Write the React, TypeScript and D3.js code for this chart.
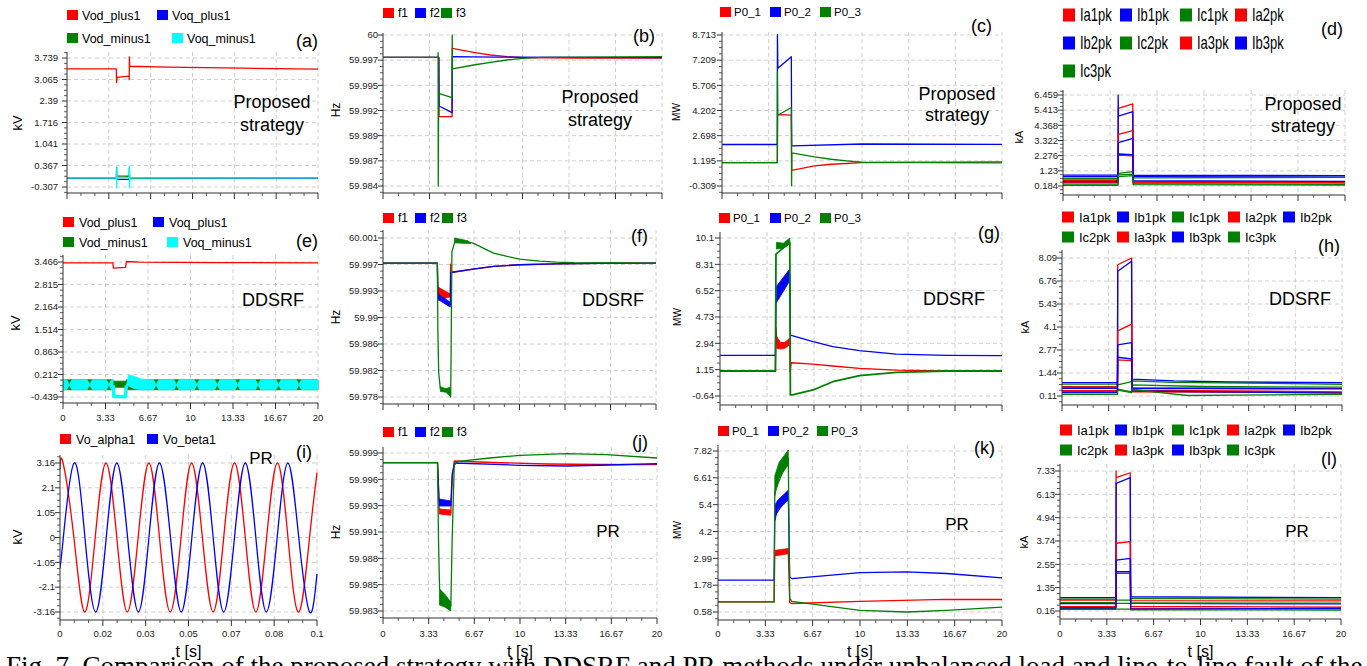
import React from 'react';
import * as d3 from 'd3';

type P = [number, number];
type B = [number, number, number];

const RED = '#ff0000';
const BLUE = '#0000ff';
const GREEN = '#008000';
const CYAN = '#00ffff';
const SANS = 'Liberation Sans, Arial, Helvetica, sans-serif';
const SERIF = 'Liberation Serif, Times New Roman, serif';

// ---------- common tick labels ----------
const tLabels = ['0', '3.33', '6.67', '10', '13.33', '16.67', '20'];
const iLabels = ['0', '0.02', '0.03', '0.05', '0.07', '0.08', '0.1'];

// ---------- (a) Proposed, sequence voltages (kV) ----------
const aTicks = ['3.739', '3.065', '2.39', '1.716', '1.041', '0.367', '-0.307'];
const aVodPlus: P[] = [[0, 3.40], [3.93, 3.40], [3.95, 2.97], [3.99, 3.13], [4.95, 3.17], [4.96, 3.06], [4.97, 3.77], [5.0, 3.48], [8, 3.45], [14, 3.42], [20, 3.39]];
const aVoqPlus: P[] = [[0, -0.03], [3.95, -0.03], [3.97, -0.07], [4.95, -0.07], [4.98, -0.03], [20, -0.03]];
const aVodMinus: P[] = [[0, -0.02], [3.93, -0.02], [3.95, 0.30], [3.97, 0.04], [4.95, 0.03], [4.97, 0.30], [4.99, -0.04], [6, -0.03], [9, -0.02], [20, -0.01]];
const aVoqMinus: P[] = [[0, -0.02], [3.95, -0.02], [3.96, -0.33], [3.97, 0.32], [3.99, -0.01], [4.95, -0.01], [4.97, 0.35], [4.99, -0.33], [5.01, -0.02], [20, -0.02]];

// ---------- (b) Proposed, frequency (Hz) ----------
const bTicks = ['60', '59.997', '59.995', '59.992', '59.989', '59.987', '59.984'];
const bF1: P[] = [[0, 59.99763], [4.0, 59.99763], [4.02, 59.99135], [4.95, 59.99135], [4.97, 59.99859], [6.5, 59.99816], [7.7, 59.99788], [8.9, 59.9977], [10, 59.9976], [14, 59.99755], [20, 59.99755]];
const bF2: P[] = [[0, 59.99763], [4.0, 59.99763], [4.02, 59.99248], [4.95, 59.99177], [4.97, 59.9977], [8, 59.99765], [20, 59.9976]];
const bF3: P[] = [[0, 59.99763], [3.94, 59.99763], [3.95, 59.99813], [3.96, 59.984], [3.99, 59.99382], [4.95, 59.99336], [4.96, 60.0], [4.98, 59.9964], [6.5, 59.99682], [7.7, 59.9971], [8.9, 59.99735], [10, 59.99753], [11.5, 59.99763], [20, 59.9977]];

// ---------- (c) Proposed, power (MW) ----------
const cTicks = ['8.713', '7.209', '5.706', '4.202', '2.698', '1.195', '-0.309'];
const cP1: P[] = [[0, 1.09], [3.95, 1.09], [3.98, 3.96], [4.95, 3.92], [4.98, 0.63], [6.6, 0.89], [7.8, 0.99], [10, 1.09], [20, 1.13]];
const cP2: P[] = [[0, 2.17], [3.95, 2.17], [3.96, 8.75], [3.99, 6.72], [4.95, 7.42], [4.98, 2.09], [10, 2.2], [20, 2.18]];
const cP3: P[] = [[0, 1.09], [3.95, 1.09], [3.96, 6.52], [3.99, 3.92], [4.95, 4.38], [4.97, -0.3], [4.99, 1.67], [6.6, 1.43], [7.8, 1.29], [8.9, 1.19], [10, 1.11], [20, 1.07]];

// ---------- (d) Proposed, peak currents (kA) ----------
const dTicks = ['6.459', '5.413', '4.368', '3.322', '2.276', '1.23', '0.184'];
const dIa1: P[] = [[0, 0.60], [3.9, 0.60], [3.93, 5.54], [4.95, 5.84], [4.98, 0.50], [20, 0.45]];
const dIb1: P[] = [[0, 0.94], [3.9, 0.94], [3.91, 6.46], [3.93, 5.01], [4.95, 5.31], [4.98, 0.92], [20, 0.90]];
const dIc1: P[] = [[0, 0.71], [3.9, 0.71], [3.93, 1.06], [4.95, 1.17], [4.98, 0.75], [20, 0.78]];
const dIa2: P[] = [[0, 0.41], [3.9, 0.41], [3.93, 3.75], [4.95, 4.0], [4.98, 0.45], [20, 0.40]];
const dIb2: P[] = [[0, 0.83], [3.9, 0.83], [3.93, 3.17], [4.95, 3.47], [4.98, 0.85], [20, 0.88]];
const dIc2: P[] = [[0, 0.32], [3.9, 0.32], [3.93, 0.83], [4.95, 0.90], [4.98, 0.35], [20, 0.30]];
const dIa3: P[] = [[0, 0.55], [3.9, 0.55], [3.93, 2.32], [4.95, 2.27], [4.98, 0.40], [20, 0.42]];
const dIb3: P[] = [[0, 0.48], [3.9, 0.48], [3.93, 2.39], [4.95, 2.35], [4.98, 0.55], [20, 0.50]];
const dIc3: P[] = [[0, 0.23], [3.9, 0.23], [3.93, 0.95], [4.95, 1.0], [4.98, 0.28], [20, 0.25]];

// ---------- (e) DDSRF, sequence voltages (kV) ----------
const eTicks = ['3.466', '2.815', '2.164', '1.514', '0.863', '0.212', '-0.439'];
const eVodPlus: P[] = [[0, 3.44], [3.92, 3.44], [3.95, 3.29], [4.9, 3.31], [4.97, 3.48], [6, 3.46], [12, 3.45], [20, 3.44]];
const eVoqPlus: P[] = [[0, -0.086], [20, -0.086]];
const eVodMinusBand: B[] = [[0, -0.23, 0.06], [3.93, -0.23, 0.06], [3.95, -0.16, 0.02], [4.95, -0.16, 0.02], [4.98, -0.23, 0.06], [20, -0.23, 0.06]];
const eVoqMinusBandPre: B[] = [[0, -0.23, 0.06], [0.3, -0.23, 0.06], [0.5, -0.086, -0.086], [0.7, -0.23, 0.06], [1.9, -0.23, 0.06], [2.1, -0.086, -0.086], [2.3, -0.23, 0.06], [3.4, -0.23, 0.06], [3.6, -0.086, -0.086], [3.8, -0.23, 0.06], [3.93, -0.23, 0.06]];
const eVoqMinusBandPost: B[] = [[4.98, -0.12, -0.1], [5.15, -0.12, 0.2], [5.6, -0.2, 0.16], [6.1, -0.23, 0.08], [7.1, -0.23, 0.06], [7.3, -0.086, -0.086], [7.5, -0.23, 0.06], [8.7, -0.23, 0.06], [8.9, -0.086, -0.086], [9.1, -0.23, 0.06], [10.3, -0.23, 0.06], [10.5, -0.086, -0.086], [10.7, -0.23, 0.06], [11.9, -0.23, 0.06], [12.1, -0.086, -0.086], [12.3, -0.23, 0.06], [13.5, -0.23, 0.06], [13.7, -0.086, -0.086], [13.9, -0.23, 0.06], [15.1, -0.23, 0.06], [15.3, -0.086, -0.086], [15.5, -0.23, 0.06], [16.7, -0.23, 0.06], [16.9, -0.086, -0.086], [17.1, -0.23, 0.06], [18.3, -0.23, 0.06], [18.5, -0.086, -0.086], [18.7, -0.23, 0.06], [20, -0.23, 0.06]];
const eVoqMinusFault: P[] = [[3.94, -0.1], [3.99, -0.42], [4.9, -0.43], [4.97, -0.1]];

// ---------- (f) DDSRF, frequency (Hz) ----------
const fTicks = ['60.001', '59.997', '59.993', '59.99', '59.986', '59.982', '59.978'];
const fF1: P[] = [[0, 59.99737], [3.98, 59.99737], [4.03, 59.9928], [4.93, 59.9927], [4.95, 59.9972], [4.98, 59.99601], [6.6, 59.9965], [8.1, 59.99689], [10, 59.99713], [12.7, 59.99727], [16, 59.99735], [20, 59.99737]];
const fF1Band: B[] = [[4.04, 59.992, 59.9939], [4.93, 59.9925, 59.9929]];
const fF2: P[] = [[0, 59.99737], [3.98, 59.99737], [4.03, 59.9925], [4.93, 59.9913], [4.96, 59.99601], [6.6, 59.9965], [8.1, 59.99689], [10, 59.99713], [12.7, 59.99727], [16, 59.99735], [20, 59.99737]];
const fF2Band: B[] = [[4.04, 59.9921, 59.9929], [4.93, 59.991, 59.9917]];
const fF3: P[] = [[0, 59.99737], [3.98, 59.99737], [4.02, 59.9875], [4.08, 59.9815], [4.2, 59.9792], [4.5, 59.979], [4.93, 59.9786], [4.96, 59.978], [5.05, 59.999], [5.3, 60.00076], [6.6, 60.00027], [8.1, 59.99882], [9.1, 59.99833], [10, 59.99795], [11.5, 59.99766], [12.7, 59.99751], [14, 59.99742], [20, 59.99737]];
const fF3Band: B[] = [[4.2, 59.9788, 59.9795], [4.6, 59.9787, 59.9792], [4.93, 59.9781, 59.9794]];
const fF3Band2: B[] = [[5.25, 60.0003, 60.001], [6.2, 60.0002, 60.0006], [6.4, 60.0002, 60.0003]];

// ---------- (g) DDSRF, power (MW) ----------
const gTicks = ['10.1', '8.31', '6.52', '4.73', '2.94', '1.15', '-0.64'];
const gP1: P[] = [[0, 1.06], [3.93, 1.06], [3.97, 4.0], [4.05, 2.9], [4.95, 3.05], [4.97, 1.0], [5.05, 1.62], [6.6, 1.53], [8.0, 1.4], [9.9, 1.24], [12.5, 1.12], [16.1, 1.06], [20, 1.06]];
const gP1Band: B[] = [[4.02, 2.6, 3.4], [4.3, 2.55, 3.0], [4.6, 2.6, 3.0], [4.95, 2.85, 3.3]];
const gP2: P[] = [[0, 2.12], [3.93, 2.12], [3.97, 5.8], [4.95, 7.6], [4.99, 3.5], [6.6, 3.05], [8.0, 2.71], [9.9, 2.44], [12.5, 2.21], [16.1, 2.12], [20, 2.1]];
const gP2Band: B[] = [[4.0, 5.7, 6.8], [4.95, 7.2, 8.0]];
const gP3: P[] = [[0, 1.06], [3.93, 1.06], [3.97, 9.0], [4.95, 9.8], [4.99, -0.57], [5.2, -0.55], [6.6, -0.23], [8.0, 0.33], [9.9, 0.74], [12.5, 0.97], [16.1, 1.06], [20, 1.06]];
const gP3Band: B[] = [[4.0, 9.35, 9.8], [4.5, 9.4, 9.75], [4.95, 9.7, 10.1]];

// ---------- (h) DDSRF, peak currents (kA) ----------
const hTicks = ['8.09', '6.76', '5.43', '4.1', '2.77', '1.44', '0.11'];
const hIa1: P[] = [[0, 0.42], [3.96, 0.42], [3.98, 7.7], [4.97, 8.09], [5.0, 0.45], [20, 0.35]];
const hIb1: P[] = [[0, 0.88], [3.96, 0.88], [3.98, 7.32], [4.97, 7.9], [5.0, 1.09], [8, 0.98], [12, 0.92], [20, 0.88]];
const hIc1: P[] = [[0, 0.8], [3.96, 0.8], [3.98, 0.75], [4.97, 0.94], [5.0, 0.98], [8, 0.9], [20, 0.79]];
const hIa2: P[] = [[0, 0.65], [3.96, 0.65], [3.98, 3.88], [4.97, 4.27], [5.0, 0.6], [20, 0.55]];
const hIb2: P[] = [[0, 0.55], [3.96, 0.55], [3.98, 3.07], [4.97, 3.2], [5.0, 0.55], [20, 0.52]];
const hIc2: P[] = [[0, 0.61], [3.96, 0.61], [3.98, 0.5], [4.97, 0.35], [5.0, 0.75], [10, 0.66], [20, 0.62]];
const hIa3: P[] = [[0, 0.36], [3.96, 0.36], [3.98, 2.2], [4.97, 2.16], [5.0, 0.35], [20, 0.3]];
const hIb3: P[] = [[0, 0.3], [3.96, 0.3], [3.98, 2.35], [4.97, 2.25], [5.0, 0.4], [20, 0.28]];
const hIc3: P[] = [[0, 0.2], [3.96, 0.2], [3.98, 0.45], [4.97, 0.3], [5.0, 0.5], [7, 0.3], [9, 0.14], [12, 0.16], [20, 0.2]];

// ---------- (i) PR, alpha-beta voltages (kV) ----------
const iTicks = ['3.16', '2.1', '1.05', '0', '-1.05', '-2.1', '-3.16'];
const iAlpha: P[] = [[0, 2.9], [0.0012, 3.16], [0.0054, 0], [0.0096, -3.16], [0.0137, 0], [0.0179, 3.16], [0.0221, 0], [0.0262, -3.16], [0.0304, 0], [0.0346, 3.16], [0.0387, 0], [0.0429, -3.16], [0.0471, 0], [0.0512, 3.16], [0.0554, 0], [0.0596, -3.16], [0.0637, 0], [0.0679, 3.16], [0.0721, 0], [0.0762, -3.16], [0.0804, 0], [0.0846, 3.16], [0.0887, 0], [0.0929, -3.16], [0.0971, 0], [0.1, 2.75]];
const iBeta: P[] = [[0, -1.3], [0.0013, 0], [0.0055, 3.16], [0.0097, 0], [0.0139, -3.16], [0.018, 0], [0.0221, 3.16], [0.0263, 0], [0.0305, -3.16], [0.0346, 0], [0.0387, 3.16], [0.043, 0], [0.0472, -3.16], [0.0513, 0], [0.0555, 3.16], [0.0596, 0], [0.0637, -3.16], [0.0679, 0], [0.0721, 3.16], [0.0762, 0], [0.0803, -3.16], [0.0845, 0], [0.0887, 3.16], [0.0929, 0], [0.0971, -3.16], [0.1, -1.55]];

// ---------- (j) PR, frequency (Hz) ----------
const jTicks = ['59.999', '59.996', '59.993', '59.991', '59.988', '59.985', '59.983'];
const jF1: P[] = [[0, 59.99763], [3.98, 59.99763], [4.1, 59.993], [4.95, 59.9926], [5.05, 59.996], [5.2, 59.9978], [8, 59.99765], [12, 59.9975], [16, 59.99745], [20, 59.99743]];
const jF1Band: B[] = [[4.1, 59.9925, 59.993], [4.95, 59.99237, 59.9929]];
const jF2: P[] = [[0, 59.99763], [3.98, 59.99763], [4.1, 59.9937], [4.95, 59.9934], [5.05, 59.9965], [5.25, 59.9976], [10, 59.99737], [13.4, 59.9973], [16.5, 59.9974], [20, 59.99753]];
const jF2Band: B[] = [[4.1, 59.9933, 59.994], [4.95, 59.9933, 59.9938]];
const jF3: P[] = [[0, 59.99763], [3.98, 59.99763], [4.05, 59.99], [4.13, 59.985], [4.5, 59.9842], [4.95, 59.9833], [5.05, 59.99], [5.2, 59.9974], [5.5, 59.99777], [7.8, 59.9981], [10, 59.99837], [13.4, 59.99853], [16.3, 59.99843], [20, 59.9981]];
const jF3Band: B[] = [[4.12, 59.9834, 59.985], [4.5, 59.9832, 59.9845], [4.95, 59.9828, 59.9837]];

// ---------- (k) PR, power (MW) ----------
const kTicks = ['7.82', '6.61', '5.4', '4.2', '2.99', '1.78', '0.58'];
const kP1: P[] = [[0, 1.03], [3.95, 1.03], [4.0, 3.2], [4.95, 3.3], [5.05, 1.0], [5.2, 0.96], [10, 1.06], [16, 1.15], [20, 1.14]];
const kP1Band: B[] = [[4.02, 3.1, 3.35], [4.95, 3.2, 3.43]];
const kP2: P[] = [[0, 2.01], [3.95, 2.01], [4.0, 4.9], [4.95, 5.8], [5.05, 2.15], [5.2, 2.08], [10, 2.35], [13.3, 2.38], [16.1, 2.31], [20, 2.11]];
const kP2Band: B[] = [[4.02, 4.7, 5.4], [4.2, 5.2, 5.6], [4.95, 5.6, 6.05]];
const kP3: P[] = [[0, 1.03], [3.95, 1.03], [4.0, 6.0], [4.95, 7.5], [5.05, 1.2], [5.2, 1.06], [10, 0.65], [13.3, 0.58], [16.1, 0.65], [20, 0.8]];
const kP3Band: B[] = [[4.0, 5.8, 6.7], [4.3, 6.6, 7.3], [4.95, 7.2, 7.86]];

// ---------- (l) PR, peak currents (kA) ----------
const lTicks = ['7.33', '6.13', '4.94', '3.74', '2.55', '1.35', '0.16'];
const lIa1: P[] = [[0, 0.72], [3.98, 0.72], [3.99, 7.33], [4.0, 6.99], [5.0, 7.24], [5.03, 0.69], [20, 0.68]];
const lIb1: P[] = [[0, 0.84], [3.98, 0.84], [4.0, 6.7], [5.0, 6.99], [5.03, 0.89], [20, 0.84]];
const lIc1: P[] = [[0, 0.77], [3.98, 0.77], [4.0, 0.72], [5.0, 0.72], [5.03, 0.81], [20, 0.77]];
const lIa2: P[] = [[0, 0.38], [3.98, 0.38], [4.0, 3.63], [5.0, 3.71], [5.03, 0.4], [20, 0.36]];
const lIb2: P[] = [[0, 0.54], [3.98, 0.54], [4.0, 2.77], [5.0, 2.86], [5.03, 0.55], [20, 0.52]];
const lIc2: P[] = [[0, 0.59], [3.98, 0.59], [4.0, 0.55], [5.0, 0.55], [5.03, 0.58], [20, 0.56]];
const lIa3: P[] = [[0, 0.33], [3.98, 0.33], [4.0, 2.09], [5.0, 2.09], [5.03, 0.3], [20, 0.28]];
const lIb3: P[] = [[0, 0.3], [3.98, 0.3], [4.0, 2.17], [5.0, 2.17], [5.03, 0.25], [20, 0.3]];
const lIc3: P[] = [[0, 0.25], [3.98, 0.25], [4.0, 0.26], [5.0, 0.26], [5.03, 0.22], [20, 0.21]];

const seqNames = ['Vod_plus1', 'Voq_plus1', 'Vod_minus1', 'Voq_minus1'];
const fNames = ['f1', 'f2', 'f3'];
const pNames = ['P0_1', 'P0_2', 'P0_3'];
const iNames = ['Ia1pk', 'Ib1pk', 'Ic1pk', 'Ia2pk', 'Ib2pk', 'Ic2pk', 'Ia3pk', 'Ib3pk', 'Ic3pk'];
const abNames = ['Vo_alpha1', 'Vo_beta1'];
const captionText = 'Fig. 7. Comparison of the proposed strategy with DDSRF and PR methods under unbalanced load and line-to-line fault of the';

// ---------- types ----------
interface Series { name: string; color: string; lines: { pts: P[]; w?: number }[]; bands?: B[][] }
interface Legend { pos: [number, number][]; font: number; sw: number; sh: number; tdx: number; sy?: number }
interface PanelCfg {
  id: string; x0: number; x1: number; yTop: number; yBot: number; tTop: number; tBot: number;
  yLo: number; yHi: number; yLabels: string[]; labelGap: number;
  xMax: number; xLabels: string[]; showX: boolean; xLabelY: number; tLabel?: boolean;
  series: Series[]; legend: Legend; curve?: any;
  tag: [number, number]; tagText: string;
  note: string[]; noteX: number; noteY: number[]; noteSize: number;
  unit: string; unitX: number; unitY: number; unitSize: number;
}

const curColors = [RED, BLUE, GREEN, RED, BLUE, GREEN, RED, BLUE, GREEN];
const mkCurrents = (arr: P[][]): Series[] => arr.map((pts, i) => ({ name: iNames[i], color: curColors[i], lines: [{ pts }] }));
const grid5 = (cols: number[], rows: number[]): [number, number][] => iNames.map((_, i) => [cols[i % cols.length], rows[Math.floor(i / cols.length)]] as [number, number]);

const PANELS: PanelCfg[] = [
  {
    id: 'a', x0: 67, x1: 318, yTop: 52, yBot: 193, tTop: 58, tBot: 187, yLo: -0.307, yHi: 3.739, yLabels: aTicks, labelGap: 9,
    xMax: 20, xLabels: tLabels, showX: false, xLabelY: 0,
    series: [
      { name: seqNames[0], color: RED, lines: [{ pts: aVodPlus }] },
      { name: seqNames[1], color: BLUE, lines: [{ pts: aVoqPlus }] },
      { name: seqNames[2], color: GREEN, lines: [{ pts: aVodMinus }] },
      { name: seqNames[3], color: CYAN, lines: [{ pts: aVoqMinus }] },
    ],
    legend: { pos: [[67, 15], [157, 15], [67, 38], [172, 38]], font: 12.5, sw: 11, sh: 10, tdx: 15 },
    tag: [318, 47], tagText: '(a)', note: ['Proposed', 'strategy'], noteX: 272, noteY: [108, 131], noteSize: 18,
    unit: 'kV', unitX: 17, unitY: 123, unitSize: 13,
  },
  {
    id: 'b', x0: 383, x1: 662, yTop: 33, yBot: 193, tTop: 35, tBot: 186, yLo: 59.984, yHi: 60.0, yLabels: bTicks, labelGap: 5,
    xMax: 20, xLabels: tLabels, showX: false, xLabelY: 0,
    series: [
      { name: fNames[0], color: RED, lines: [{ pts: bF1 }] },
      { name: fNames[1], color: BLUE, lines: [{ pts: bF2 }] },
      { name: fNames[2], color: GREEN, lines: [{ pts: bF3 }] },
    ],
    legend: { pos: [[383, 13], [415, 13], [441, 13]], font: 12, sw: 11, sh: 10, tdx: 15 },
    tag: [655, 42], tagText: '(b)', note: ['Proposed', 'strategy'], noteX: 600, noteY: [103, 126], noteSize: 18,
    unit: 'Hz', unitX: 336, unitY: 110, unitSize: 12,
  },
  {
    id: 'c', x0: 722, x1: 1002, yTop: 32, yBot: 193, tTop: 35, tBot: 186, yLo: -0.309, yHi: 8.713, yLabels: cTicks, labelGap: 6,
    xMax: 20, xLabels: tLabels, showX: false, xLabelY: 0,
    series: [
      { name: pNames[0], color: RED, lines: [{ pts: cP1 }] },
      { name: pNames[1], color: BLUE, lines: [{ pts: cP2 }] },
      { name: pNames[2], color: GREEN, lines: [{ pts: cP3 }] },
    ],
    legend: { pos: [[720, 12], [770, 12], [820, 12]], font: 11.5, sw: 11, sh: 10, tdx: 14 },
    tag: [992, 32], tagText: '(c)', note: ['Proposed', 'strategy'], noteX: 957, noteY: [100, 121], noteSize: 18,
    unit: 'MW', unitX: 676, unitY: 112, unitSize: 10,
  },
  {
    id: 'd', x0: 1063, x1: 1345, yTop: 90, yBot: 195, tTop: 95, tBot: 186, yLo: 0.184, yHi: 6.459, yLabels: dTicks, labelGap: 5,
    xMax: 20, xLabels: tLabels, showX: false, xLabelY: 0,
    series: mkCurrents([dIa1, dIb1, dIc1, dIa2, dIb2, dIc2, dIa3, dIb3, dIc3]),
    legend: { pos: grid5([1063, 1120, 1180, 1235], [15, 43, 71]), font: 13, sw: 12, sh: 13, tdx: 17, sy: 1.35 },
    tag: [1343, 35], tagText: '(d)', note: ['Proposed', 'strategy'], noteX: 1303, noteY: [110, 132], noteSize: 18,
    unit: 'kA', unitX: 1019, unitY: 137, unitSize: 11,
  },
  {
    id: 'e', x0: 63, x1: 318, yTop: 255, yBot: 403, tTop: 262, tBot: 397, yLo: -0.439, yHi: 3.466, yLabels: eTicks, labelGap: 5,
    xMax: 20, xLabels: tLabels, showX: true, xLabelY: 421,
    series: [
      { name: seqNames[0], color: RED, lines: [{ pts: eVodPlus }] },
      { name: seqNames[1], color: BLUE, lines: [{ pts: eVoqPlus }] },
      { name: seqNames[2], color: GREEN, lines: [], bands: [eVodMinusBand] },
      { name: seqNames[3], color: CYAN, lines: [{ pts: eVoqMinusFault, w: 3.5 }], bands: [eVoqMinusBandPre, eVoqMinusBandPost] },
    ],
    legend: { pos: [[63, 222], [153, 222], [63, 242], [167, 242]], font: 12.5, sw: 11, sh: 10, tdx: 16 },
    tag: [318, 247], tagText: '(e)', note: ['DDSRF'], noteX: 273, noteY: [306], noteSize: 18,
    unit: 'kV', unitX: 15, unitY: 323, unitSize: 13,
  },
  {
    id: 'f', x0: 383, x1: 656, yTop: 230, yBot: 404, tTop: 238, tBot: 397, yLo: 59.978, yHi: 60.001, yLabels: fTicks, labelGap: 5,
    xMax: 20, xLabels: tLabels, showX: false, xLabelY: 0,
    series: [
      { name: fNames[0], color: RED, lines: [{ pts: fF1 }], bands: [fF1Band] },
      { name: fNames[1], color: BLUE, lines: [{ pts: fF2 }], bands: [fF2Band] },
      { name: fNames[2], color: GREEN, lines: [{ pts: fF3 }], bands: [fF3Band, fF3Band2] },
    ],
    legend: { pos: [[383, 218], [415, 218], [442, 218]], font: 12, sw: 11, sh: 10, tdx: 15 },
    tag: [648, 242], tagText: '(f)', note: ['DDSRF'], noteX: 613, noteY: [306], noteSize: 18,
    unit: 'Hz', unitX: 336, unitY: 317, unitSize: 12,
  },
  {
    id: 'g', x0: 720, x1: 1002, yTop: 232, yBot: 405, tTop: 238, tBot: 396, yLo: -0.64, yHi: 10.1, yLabels: gTicks, labelGap: 6,
    xMax: 20, xLabels: tLabels, showX: false, xLabelY: 0,
    series: [
      { name: pNames[0], color: RED, lines: [{ pts: gP1 }], bands: [gP1Band] },
      { name: pNames[1], color: BLUE, lines: [{ pts: gP2 }], bands: [gP2Band] },
      { name: pNames[2], color: GREEN, lines: [{ pts: gP3, w: 1.8 }], bands: [gP3Band] },
    ],
    legend: { pos: [[719, 218], [770, 218], [820, 218]], font: 11.5, sw: 11, sh: 10, tdx: 14 },
    tag: [1000, 239], tagText: '(g)', note: ['DDSRF'], noteX: 954, noteY: [305], noteSize: 18,
    unit: 'MW', unitX: 677, unitY: 317, unitSize: 10,
  },
  {
    id: 'h', x0: 1062, x1: 1342, yTop: 250, yBot: 405, tTop: 258, tBot: 396, yLo: 0.11, yHi: 8.09, yLabels: hTicks, labelGap: 5,
    xMax: 20, xLabels: tLabels, showX: false, xLabelY: 0,
    series: mkCurrents([hIa1, hIb1, hIc1, hIa2, hIb2, hIc2, hIa3, hIb3, hIc3]),
    legend: { pos: grid5([1062, 1117, 1172, 1228, 1283], [217, 237]), font: 13, sw: 12, sh: 11, tdx: 17 },
    tag: [1340, 252], tagText: '(h)', note: ['DDSRF'], noteX: 1300, noteY: [305], noteSize: 18,
    unit: 'kA', unitX: 1025, unitY: 327, unitSize: 11,
  },
  {
    id: 'i', x0: 60, x1: 317, yTop: 455, yBot: 620, tTop: 463, tBot: 612, yLo: -3.16, yHi: 3.16, yLabels: iTicks, labelGap: 5,
    xMax: 0.1, xLabels: iLabels, showX: true, xLabelY: 637, tLabel: true, curve: d3.curveNatural,
    series: [
      { name: abNames[0], color: RED, lines: [{ pts: iAlpha }] },
      { name: abNames[1], color: BLUE, lines: [{ pts: iBeta }] },
    ],
    legend: { pos: [[60, 439], [147, 439]], font: 12.5, sw: 11, sh: 10, tdx: 16 },
    tag: [312, 458], tagText: '(i)', note: ['PR'], noteX: 261, noteY: [464], noteSize: 17,
    unit: 'kV', unitX: 17, unitY: 537, unitSize: 13,
  },
  {
    id: 'j', x0: 383, x1: 657, yTop: 447, yBot: 618, tTop: 453, tBot: 611, yLo: 59.9828, yHi: 59.9986, yLabels: jTicks, labelGap: 5,
    xMax: 20, xLabels: tLabels, showX: true, xLabelY: 637, tLabel: true,
    series: [
      { name: fNames[0], color: RED, lines: [{ pts: jF1 }], bands: [jF1Band] },
      { name: fNames[1], color: BLUE, lines: [{ pts: jF2 }], bands: [jF2Band] },
      { name: fNames[2], color: GREEN, lines: [{ pts: jF3 }], bands: [jF3Band] },
    ],
    legend: { pos: [[383, 432], [415, 432], [442, 432]], font: 12, sw: 11, sh: 10, tdx: 15 },
    tag: [648, 448], tagText: '(j)', note: ['PR'], noteX: 608, noteY: [537], noteSize: 17,
    unit: 'Hz', unitX: 336, unitY: 532, unitSize: 12,
  },
  {
    id: 'k', x0: 718, x1: 1002, yTop: 445, yBot: 620, tTop: 451, tBot: 612, yLo: 0.579, yHi: 7.815, yLabels: kTicks, labelGap: 6,
    xMax: 20, xLabels: tLabels, showX: true, xLabelY: 637, tLabel: true,
    series: [
      { name: pNames[0], color: RED, lines: [{ pts: kP1 }], bands: [kP1Band] },
      { name: pNames[1], color: BLUE, lines: [{ pts: kP2 }], bands: [kP2Band] },
      { name: pNames[2], color: GREEN, lines: [{ pts: kP3 }], bands: [kP3Band] },
    ],
    legend: { pos: [[718, 431], [768, 431], [817, 431]], font: 11.5, sw: 11, sh: 10, tdx: 14 },
    tag: [995, 454], tagText: '(k)', note: ['PR'], noteX: 957, noteY: [530], noteSize: 17,
    unit: 'MW', unitX: 677, unitY: 530, unitSize: 10,
  },
  {
    id: 'l', x0: 1060, x1: 1341, yTop: 464, yBot: 619, tTop: 471, tBot: 611, yLo: 0.16, yHi: 7.33, yLabels: lTicks, labelGap: 5,
    xMax: 20, xLabels: tLabels, showX: true, xLabelY: 637, tLabel: true,
    series: mkCurrents([lIa1, lIb1, lIc1, lIa2, lIb2, lIc2, lIa3, lIb3, lIc3]),
    legend: { pos: grid5([1060, 1115, 1172, 1227, 1283], [430, 450]), font: 13, sw: 12, sh: 11, tdx: 17 },
    tag: [1337, 465], tagText: '(l)', note: ['PR'], noteX: 1297, noteY: [537], noteSize: 17,
    unit: 'kA', unitX: 1024, unitY: 542, unitSize: 11,
  },
];

const AXIS = '#333';
const GRID = '#c4c4c4';

function Panel({ c }: { c: PanelCfg }) {
  const x = d3.scaleLinear().domain([0, c.xMax]).range([c.x0, c.x1]);
  const y = d3.scaleLinear().domain([c.yLo, c.yHi]).range([c.tBot, c.tTop]);
  const yMajor = d3.range(7).map(i => c.yHi - (i * (c.yHi - c.yLo)) / 6);
  const ystep = (c.yHi - c.yLo) / 24;
  const vTop = y.invert(c.yTop);
  const vBot = y.invert(c.yBot);
  const yMinor: number[] = [];
  for (let k = Math.ceil((vBot - c.yLo) / ystep - 1e-6); c.yLo + k * ystep <= vTop + 1e-12; k++) {
    if (((k % 4) + 4) % 4 !== 0) yMinor.push(c.yLo + k * ystep);
  }
  const xMajor = d3.range(7).map(i => (i * c.xMax) / 6);
  const xMinor = d3.range(19).filter(i => i % 3 !== 0).map(i => (i * c.xMax) / 18);
  const line = d3.line<P>().x(d => x(d[0])).y(d => y(d[1])).curve(c.curve || d3.curveLinear);
  const area = d3.area<B>().x(d => x(d[0])).y0(d => y(d[1])).y1(d => y(d[2]));
  const clipId = `clip-${c.id}`;
  const L = c.legend;
  return (
    <g>
      <defs>
        <clipPath id={clipId}>
          <rect x={c.x0} y={c.yTop - 2} width={c.x1 - c.x0 + 1} height={c.yBot - c.yTop + 2} />
        </clipPath>
      </defs>
      {yMajor.map((v, i) => (
        <line key={`gy${i}`} x1={c.x0} x2={c.x1} y1={y(v)} y2={y(v)} stroke={GRID} strokeDasharray="4,3" strokeWidth={0.8} />
      ))}
      {xMajor.slice(1).map((v, i) => (
        <line key={`gx${i}`} x1={x(v)} x2={x(v)} y1={c.yTop} y2={c.yBot} stroke={GRID} strokeDasharray="4,3" strokeWidth={0.8} />
      ))}
      <g clipPath={`url(#${clipId})`}>
        {c.series.map((s, si) => (
          <g key={`s${si}`}>
            {(s.bands || []).map((b, bi) => (
              <path key={`b${bi}`} d={area(b) || ''} fill={s.color} stroke={s.color} strokeWidth={0.8} />
            ))}
            {s.lines.map((l, li) => (
              <path key={`l${li}`} d={line(l.pts) || ''} fill="none" stroke={s.color} strokeWidth={l.w || 1.3} strokeLinejoin="round" />
            ))}
          </g>
        ))}
      </g>
      <line x1={c.x0} x2={c.x0} y1={c.yTop} y2={c.yBot} stroke={AXIS} strokeWidth={1} />
      <line x1={c.x0} x2={c.x1} y1={c.yBot} y2={c.yBot} stroke={AXIS} strokeWidth={1} />
      {yMajor.map((v, i) => (
        <line key={`ty${i}`} x1={c.x0 - 5} x2={c.x0} y1={y(v)} y2={y(v)} stroke={AXIS} />
      ))}
      {yMinor.map((v, i) => (
        <line key={`tmy${i}`} x1={c.x0 - 3} x2={c.x0} y1={y(v)} y2={y(v)} stroke={AXIS} strokeWidth={0.8} />
      ))}
      {xMajor.map((v, i) => (
        <line key={`tx${i}`} x1={x(v)} x2={x(v)} y1={c.yBot} y2={c.yBot + 6} stroke={AXIS} />
      ))}
      {xMinor.map((v, i) => (
        <line key={`tmx${i}`} x1={x(v)} x2={x(v)} y1={c.yBot} y2={c.yBot + 3} stroke={AXIS} strokeWidth={0.8} />
      ))}
      {yMajor.map((v, i) => (
        <text key={`yl${i}`} x={c.x0 - c.labelGap} y={y(v) + 3.3} fontSize={9.5} textAnchor="end" fill="#222">{c.yLabels[i]}</text>
      ))}
      {c.showX && xMajor.map((v, i) => (
        <text key={`xl${i}`} x={x(v)} y={c.xLabelY} fontSize={9.5} textAnchor="middle" fill="#222">{c.xLabels[i]}</text>
      ))}
      {c.tLabel && (
        <text x={(c.x0 + c.x1) / 2} y={657} fontSize={16} textAnchor="middle" fill="#000">t [s]</text>
      )}
      {c.series.map((s, i) => {
        const [lx, ly] = L.pos[i];
        return (
          <g key={`lg${i}`}>
            <rect x={lx} y={ly - L.sh / 2} width={L.sw} height={L.sh} fill={s.color} />
            <text transform={`translate(${lx + L.tdx},${ly}) scale(1,${L.sy || 1})`} dy="0.36em" fontSize={L.font} fill="#000">{s.name}</text>
          </g>
        );
      })}
      <text x={c.tag[0]} y={c.tag[1]} fontSize={18} textAnchor="end" fill="#000">{c.tagText}</text>
      {c.note.map((t, i) => (
        <text key={`n${i}`} x={c.noteX} y={c.noteY[i]} fontSize={c.noteSize} textAnchor="middle" fill="#000">{t}</text>
      ))}
      <text transform={`translate(${c.unitX + c.unitSize * 0.36},${c.unitY}) rotate(-90)`} fontSize={c.unitSize} textAnchor="middle" fill="#000">{c.unit}</text>
    </g>
  );
}

export default function App() {
  return (
    <svg width={1367} height={666} style={{ position: 'absolute', left: 0, top: 0, background: '#fff' }} fontFamily={SANS}>
      <rect x={0} y={0} width={1367} height={666} fill="#fff" />
      <text x={6} y={675} fontFamily={SERIF} fontSize={27} fill="#000">{captionText}</text>
      {PANELS.map(c => <Panel key={c.id} c={c} />)}
    </svg>
  );
}
